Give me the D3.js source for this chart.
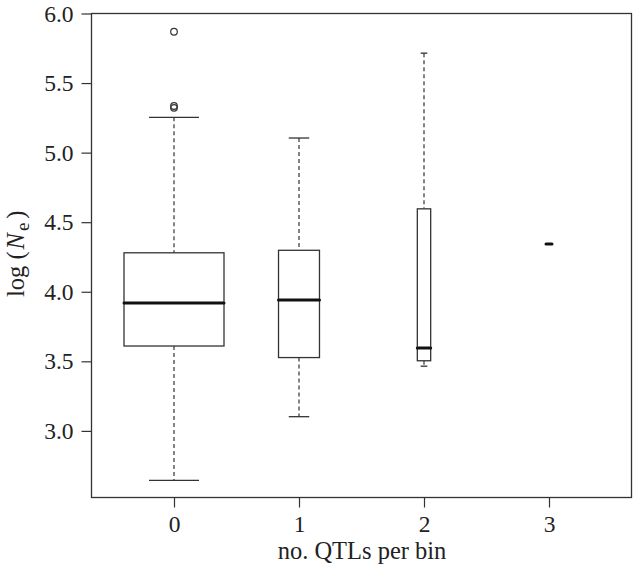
<!DOCTYPE html>
<html>
<head>
<meta charset="utf-8">
<script src="https://cdn.jsdelivr.net/npm/d3@7"></script>
<style>
  body { margin: 0; background: #fff; }
  text { font-family: "Liberation Serif", "DejaVu Serif", serif; fill: #222; }
</style>
</head>
<body>
<svg width="633" height="567"></svg>
<script>
// data
const categories = [0, 1, 2, 3];
const counts = [280, 47, 5, 1];          // group sizes (box widths are sqrt(n))
const whiskerLow = [2.644, 3.102, 3.465, 4.344];
const q1 = [3.610, 3.527, 3.504, 4.344];
const medians = [3.919, 3.941, 3.595, 4.344];
const q3 = [4.280, 4.298, 4.596, 4.344];
const whiskerHigh = [5.254, 5.105, 5.715, 4.344];
const outliers = [
  { cat: 0, value: 5.869 },
  { cat: 0, value: 5.335 },
  { cat: 0, value: 5.322 }
];
const yTicks = [3.0, 3.5, 4.0, 4.5, 5.0, 5.5, 6.0];

const boxes = categories.map((c, i) => ({
  cat: c, n: counts[i], lo: whiskerLow[i], q1: q1[i],
  med: medians[i], q3: q3[i], hi: whiskerHigh[i]
}));

const svg = d3.select("svg");
const ink = "#333";

// plot region
const plotL = 91.5, plotR = 631.5, plotT = 13.5, plotB = 497.5;

const x = d3.scaleLinear().domain([-0.66, 3.66]).range([plotL, plotR]);
const y = d3.scaleLinear().domain([2.5212, 6.0]).range([plotB, plotT]);

const maxN = d3.max(counts);
const unit = x(1) - x(0);
const boxW = n => 0.8 * unit * Math.sqrt(n / maxN);

// frame
svg.append("rect")
    .attr("x", plotL).attr("y", plotT)
    .attr("width", plotR - plotL).attr("height", plotB - plotT)
    .attr("fill", "none").attr("stroke", ink).attr("stroke-width", 1.3);

// y axis
const yAxis = svg.append("g")
    .attr("transform", `translate(${plotL},0)`)
    .call(d3.axisLeft(y).tickValues(yTicks).tickFormat(d3.format(".1f")).tickSize(10).tickPadding(8));
yAxis.select(".domain").remove();
yAxis.selectAll("line").attr("stroke", ink).attr("stroke-width", 1.2);
yAxis.selectAll("text").attr("font-size", 23.5).attr("fill", "#222");

// x axis
const xAxis = svg.append("g")
    .attr("transform", `translate(0,${plotB})`)
    .call(d3.axisBottom(x).tickValues(categories).tickFormat(d3.format("d")).tickSize(10).tickPadding(8));
xAxis.select(".domain").remove();
xAxis.selectAll("line").attr("stroke", ink).attr("stroke-width", 1.2);
xAxis.selectAll("text").attr("font-size", 23.5).attr("fill", "#222");

// axis titles
svg.append("text")
    .attr("x", (plotL + plotR) / 2 + 0.5).attr("y", 559)
    .attr("text-anchor", "middle").attr("font-size", 24.5)
    .text("no. QTLs per bin");

const yl = svg.append("text")
    .attr("transform", "translate(24,297) rotate(-90)")
    .attr("text-anchor", "start").attr("font-size", 24.5);
yl.append("tspan").text("log (");
yl.append("tspan").attr("font-style", "italic").attr("dx", 2).text("N");
yl.append("tspan").attr("font-size", 19).attr("dy", 5).attr("dx", 2).text("e");
yl.append("tspan").attr("dy", -5).attr("dx", 4).text(")");

// boxes
const g = svg.append("g").selectAll("g")
  .data(boxes)
  .join("g");

// dashed whiskers
g.filter(d => d.n > 1).append("line")
    .attr("x1", d => x(d.cat)).attr("x2", d => x(d.cat))
    .attr("y1", d => y(d.hi)).attr("y2", d => y(d.q3))
    .attr("stroke", ink).attr("stroke-width", 1.2).attr("stroke-dasharray", "4,3");
g.filter(d => d.n > 1).append("line")
    .attr("x1", d => x(d.cat)).attr("x2", d => x(d.cat))
    .attr("y1", d => y(d.q1)).attr("y2", d => y(d.lo))
    .attr("stroke", ink).attr("stroke-width", 1.2).attr("stroke-dasharray", "4,3");

// staples
["lo", "hi"].forEach(k => {
  g.filter(d => d.n > 1).append("line")
      .attr("x1", d => x(d.cat) - boxW(d.n) / 4).attr("x2", d => x(d.cat) + boxW(d.n) / 4)
      .attr("y1", d => y(d[k])).attr("y2", d => y(d[k]))
      .attr("stroke", ink).attr("stroke-width", 1.3);
});

// box
g.filter(d => d.n > 1).append("rect")
    .attr("x", d => x(d.cat) - boxW(d.n) / 2)
    .attr("width", d => boxW(d.n))
    .attr("y", d => y(d.q3))
    .attr("height", d => y(d.q1) - y(d.q3))
    .attr("fill", "#fff").attr("stroke", ink).attr("stroke-width", 1.3);

// median
g.append("line")
    .attr("x1", d => x(d.cat) - boxW(d.n) / 2).attr("x2", d => x(d.cat) + boxW(d.n) / 2)
    .attr("y1", d => y(d.med)).attr("y2", d => y(d.med))
    .attr("stroke", "#111").attr("stroke-width", 3).attr("stroke-linecap", "round");

// outliers
svg.append("g").selectAll("circle")
  .data(outliers)
  .join("circle")
    .attr("cx", d => x(d.cat)).attr("cy", d => y(d.value))
    .attr("r", 3.3)
    .attr("fill", "none").attr("stroke", ink).attr("stroke-width", 1.2);
</script>
</body>
</html>
